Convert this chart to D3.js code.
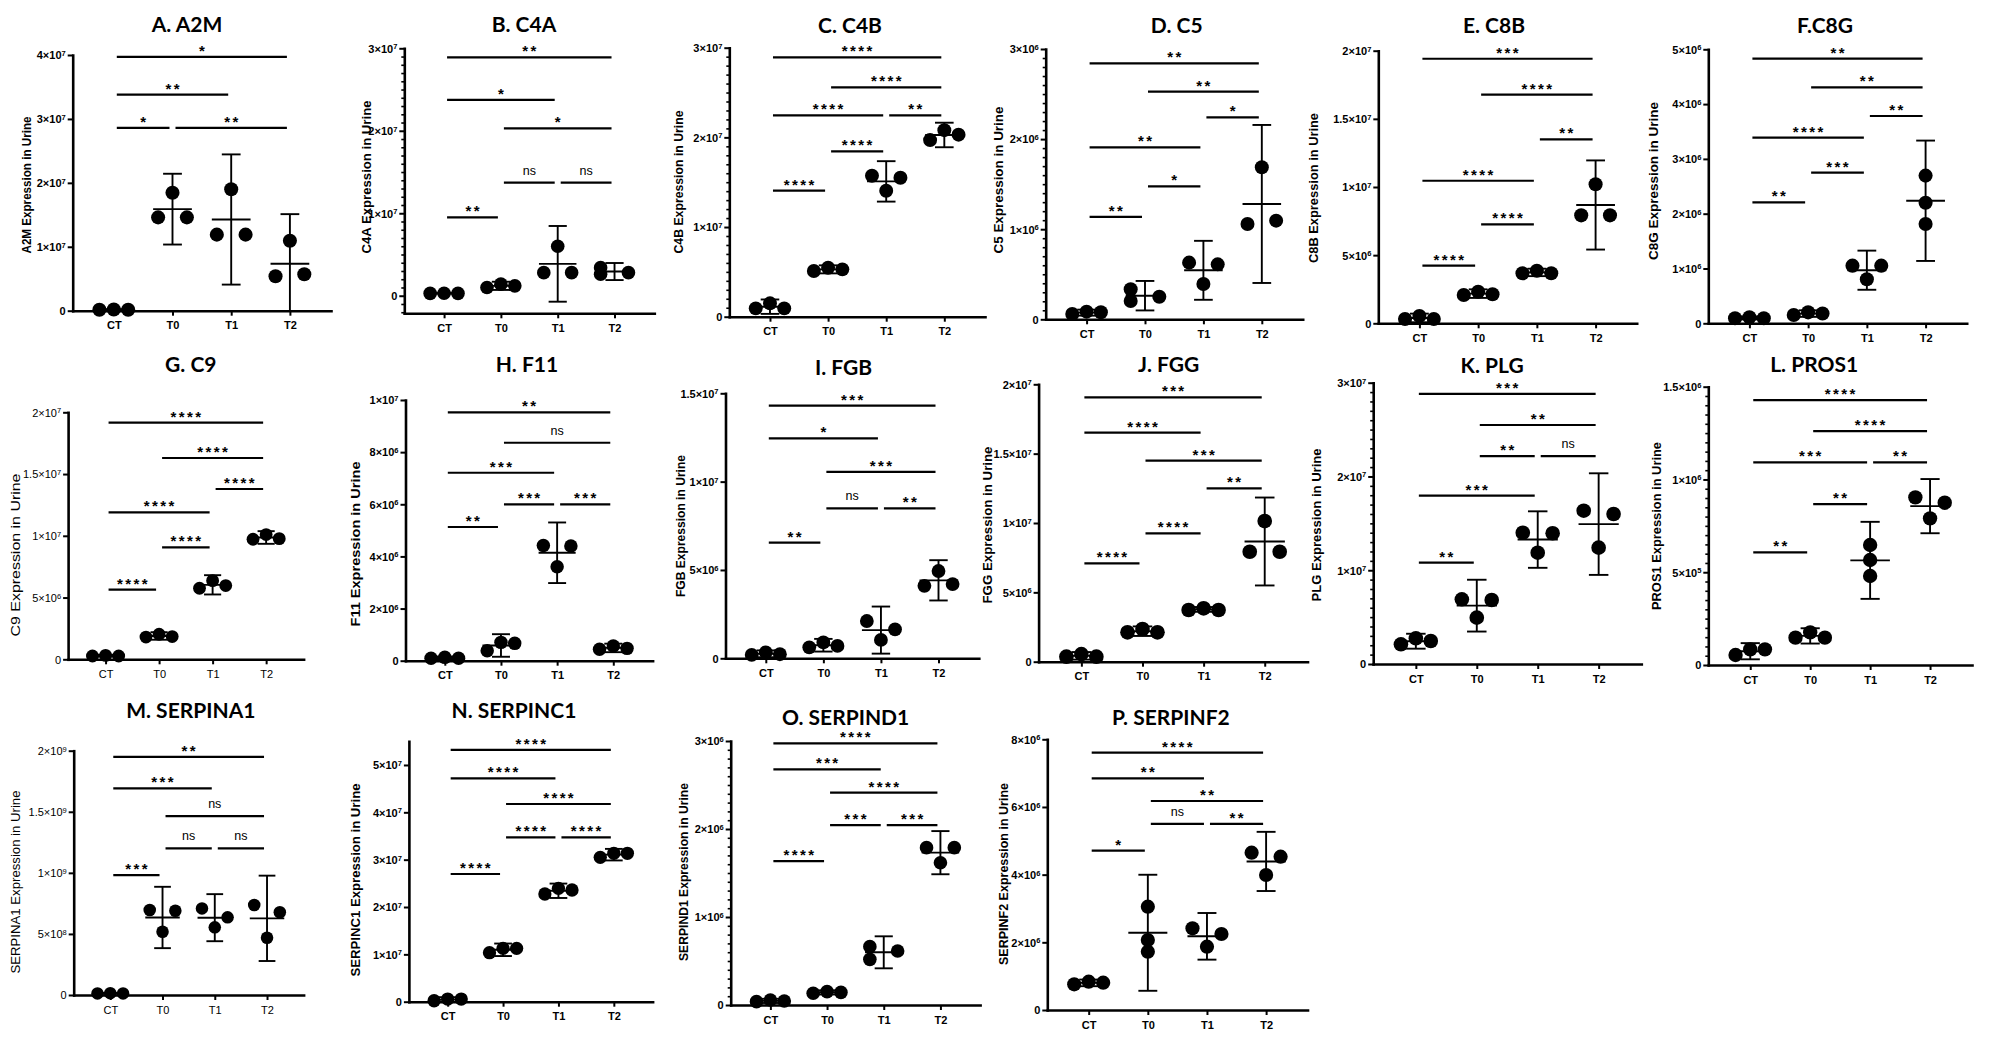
<!DOCTYPE html>
<html><head><meta charset="utf-8">
<script src="https://cdn.jsdelivr.net/npm/d3@7"></script>
<style>body{margin:0;background:#fff}svg{display:block}</style>
</head><body>
<svg id="chart" width="2008" height="1043"></svg>
<script>
// ---------- DATA ----------
const categories = ["CT", "T0", "T1", "T2"];
// points: [value, column slot] per group; sig: [fromIdx, toIdx, yValue, label]
const a2mPoints = [[[1.5e5,-1],[2e5,0],[1.5e5,1]],[[1.46e7,-1],[1.846e7,0],[1.46e7,1]],[[1.19e7,-1],[1.90e7,0],[1.19e7,1]],[[5.4e6,-1],[1.095e7,0],[5.7e6,1]]];
const a2mSig = [[0,3,3.97e7,"*"],[0,2,3.38e7,"**"],[0,1,2.86e7,"*"],[1,3,2.86e7,"**"]];
const a2mTicks = [0,1e7,2e7,3e7,4e7];

const c4aPoints = [[[2.8e5,-1],[3.0e5,0],[2.8e5,1]],[[1.0e6,-1],[1.4e6,0],[1.2e6,1]],[[2.8e6,-1],[6.0e6,0],[2.8e6,1]],[[3.4e6,-1],[2.6e6,-1],[2.8e6,1]]];
const c4aSig = [[0,3,2.89e7,"**"],[0,2,2.374e7,"*"],[1,3,2.03e7,"*"],[1,2,1.371e7,"ns"],[2,3,1.371e7,"ns"],[0,1,0.95e7,"**"]];
const c4aTicks = [0,1e7,2e7,3e7];

const c4bPoints = [[[0.93e6,-1],[1.49e6,0],[0.93e6,1]],[[5.1e6,-1],[5.46e6,0],[5.28e6,1]],[[1.572e7,-1],[1.405e7,0],[1.55e7,1]],[[1.97e7,-1],[2.08e7,0],[2.03e7,1]]];
const c4bSig = [[0,3,2.892e7,"****"],[1,3,2.558e7,"****"],[0,2,2.245e7,"****"],[2,3,2.245e7,"**"],[1,2,1.844e7,"****"],[0,1,1.405e7,"****"]];
const c4bTicks = [0,1e7,2e7,3e7];

const c5Points = [[[5.9e4,-1],[8.5e4,0],[7.8e4,1]],[[3.33e5,-1],[2.03e5,-1],[2.5e5,1]],[[6.29e5,-1],[3.92e5,0],[6.1e5,1]],[[1.058e6,-1],[1.687e6,0],[1.095e6,1]]];
const c5Sig = [[0,3,2.841e6,"**"],[1,3,2.527e6,"**"],[2,3,2.242e6,"*"],[0,2,1.909e6,"**"],[1,2,1.476e6,"*"],[0,1,1.136e6,"**"]];
const c5Ticks = [0,1e6,2e6,3e6];

const c8bPoints = [[[3.2e5,-1],[5.4e5,0],[3.2e5,1]],[[2.08e6,-1],[2.32e6,0],[2.13e6,1]],[[3.67e6,-1],[3.86e6,0],[3.67e6,1]],[[7.92e6,-1],[1.02e7,0],[7.92e6,1]]];
const c8bSig = [[0,3,1.941e7,"***"],[1,3,1.677e7,"****"],[2,3,1.35e7,"**"],[0,2,1.046e7,"****"],[1,2,0.726e7,"****"],[0,1,0.423e7,"****"]];
const c8bTicks = [0,5e6,1e7,1.5e7,2e7];

const c8gPoints = [[[9.1e4,-1],[1.1e5,0],[9.1e4,1]],[[1.52e5,-1],[2.0e5,0],[1.8e5,1]],[[1.052e6,-1],[8.03e5,0],[1.052e6,1]],[[2.695e6,0],[2.2e6,0],[1.813e6,0]]];
const c8gSig = [[0,3,4.83e6,"**"],[1,3,4.307e6,"**"],[2,3,3.783e6,"**"],[0,2,3.388e6,"****"],[1,2,2.749e6,"***"],[0,1,2.208e6,"**"]];
const c8gTicks = [0,1e6,2e6,3e6,4e6,5e6];

const c9Points = [[[2.7e5,-1],[3.2e5,0],[2.7e5,1]],[[1.8e6,-1],[2.03e6,0],[1.84e6,1]],[[5.75e6,-1],[6.37e6,0],[5.97e6,1]],[[9.72e6,-1],[1.01e7,0],[9.77e6,1]]];
const c9Sig = [[0,3,1.916e7,"****"],[1,3,1.63e7,"****"],[2,3,1.379e7,"****"],[0,2,1.19e7,"****"],[1,2,0.907e7,"****"],[0,1,0.564e7,"****"]];
const c9Ticks = [0,5e6,1e7,1.5e7,2e7];

const f11Points = [[[9e4,-1],[1.28e5,0],[9e4,1]],[[3.84e5,-1],[7.03e5,0],[6.65e5,1]],[[4.42e6,-1],[3.6e6,0],[4.4e6,1]],[[4.35e5,-1],[5.63e5,0],[4.73e5,1]]];
const f11Sig = [[0,3,9.527e6,"**"],[1,3,8.36e6,"ns"],[0,2,7.21e6,"***"],[1,2,5.997e6,"***"],[2,3,5.997e6,"***"],[0,1,5.128e6,"**"]];
const f11Ticks = [0,2e6,4e6,6e6,8e6,1e7];

const fgbPoints = [[[1.9e5,-1],[3.4e5,0],[2.3e5,1]],[[6.2e5,-1],[9.0e5,0],[7.0e5,1]],[[2.11e6,-1],[1.04e6,0],[1.64e6,1]],[[4.1e6,-1],[4.94e6,0],[4.2e6,1]]];
const fgbSig = [[0,3,1.43e7,"***"],[0,2,1.245e7,"*"],[1,3,1.055e7,"***"],[1,2,0.849e7,"ns"],[2,3,0.849e7,"**"],[0,1,0.655e7,"**"]];
const fgbTicks = [0,5e6,1e7,1.5e7];

const fggPoints = [[[3.6e5,-1],[5.5e5,0],[3.6e5,1]],[[2.12e6,-1],[2.36e6,0],[2.12e6,1]],[[3.73e6,-1],[3.85e6,0],[3.73e6,1]],[[7.93e6,-1],[1.014e7,0],[7.93e6,1]]];
const fggSig = [[0,3,1.906e7,"***"],[0,2,1.651e7,"****"],[1,3,1.45e7,"***"],[2,3,1.25e7,"**"],[1,2,0.925e7,"****"],[0,1,0.709e7,"****"]];
const fggTicks = [0,5e6,1e7,1.5e7,2e7];

const plgPoints = [[[2.1e6,-1],[2.74e6,0],[2.45e6,1]],[[6.9e6,-1],[4.94e6,0],[6.83e6,1]],[[1.40e7,-1],[1.187e7,0],[1.394e7,1]],[[1.635e7,-1],[1.241e7,0],[1.60e7,1]]];
const plgSig = [[0,3,2.88e7,"***"],[1,3,2.549e7,"**"],[1,2,2.218e7,"**"],[2,3,2.218e7,"ns"],[0,2,1.795e7,"***"],[0,1,1.081e7,"**"]];
const plgTicks = [0,1e7,2e7,3e7];

const pros1Points = [[[5.4e4,-1],[8.44e4,0],[8.44e4,1]],[[1.473e5,-1],[1.76e5,0],[1.473e5,1]],[[6.467e5,0],[5.658e5,0],[4.796e5,0]],[[9.035e5,-1],[7.904e5,0],[8.748e5,1]]];
const pros1Sig = [[0,3,1.428e6,"****"],[1,3,1.261e6,"****"],[0,2,1.092e6,"***"],[2,3,1.092e6,"**"],[1,2,8.676e5,"**"],[0,1,6.07e5,"**"]];
const pros1Ticks = [0,5e5,1e6,1.5e6];

const serpina1Points = [[[1.3e7,-1],[1.5e7,0],[1.3e7,1]],[[6.96e8,-1],[5.18e8,0],[6.9e8,1]],[[7.09e8,-1],[5.54e8,0],[6.36e8,1]],[[7.37e8,-1],[4.69e8,0],[6.77e8,1]]];
const serpina1Sig = [[0,3,1.95e9,"**"],[0,2,1.692e9,"***"],[1,3,1.465e9,"ns"],[1,2,1.2e9,"ns"],[2,3,1.2e9,"ns"],[0,1,9.82e8,"***"]];
const serpina1Ticks = [0,5e8,1e9,1.5e9,2e9];

const serpinc1Points = [[[2e5,-1],[5.6e5,0],[5.6e5,1]],[[1.035e7,-1],[1.127e7,0],[1.127e7,1]],[[2.275e7,-1],[2.394e7,0],[2.359e7,1]],[[3.049e7,-1],[3.134e7,0],[3.134e7,1]]];
const serpinc1Sig = [[0,3,5.317e7,"****"],[0,2,4.718e7,"****"],[1,3,4.176e7,"****"],[1,2,3.472e7,"****"],[2,3,3.472e7,"****"],[0,1,2.697e7,"****"]];
const serpinc1Ticks = [0,1e7,2e7,3e7,4e7,5e7];

const serpind1Points = [[[3.8e4,-1],[5.7e4,0],[4.5e4,1]],[[1.33e5,-1],[1.52e5,0],[1.44e5,1]],[[6.63e5,-1],[5.19e5,-1],[6.14e5,1]],[[1.788e6,-1],[1.617e6,0],[1.788e6,1]]];
const serpind1Sig = [[0,3,2.973e6,"****"],[0,2,2.678e6,"***"],[1,3,2.413e6,"****"],[1,2,2.045e6,"***"],[2,3,2.045e6,"***"],[0,1,1.636e6,"****"]];
const serpind1Ticks = [0,1e6,2e6,3e6];

const serpinf2Points = [[[7.59e5,-1],[8.37e5,0],[8.08e5,1]],[[3.054e6,0],[2.069e6,0],[1.724e6,0]],[[2.414e6,-1],[1.872e6,0],[2.246e6,1]],[[4.65e6,-1],[3.99e6,0],[4.532e6,1]]];
const serpinf2Sig = [[0,3,7.606e6,"****"],[0,2,6.847e6,"**"],[1,3,6.177e6,"**"],[1,2,5.498e6,"ns"],[2,3,5.498e6,"**"],[0,1,4.709e6,"*"]];
const serpinf2Ticks = [0,2e6,4e6,6e6,8e6];

const titles = ["A. A2M","B. C4A","C. C4B","D. C5","E. C8B","F.C8G","G. C9","H. F11","I. FGB","J. FGG","K. PLG","L. PROS1","M. SERPINA1","N. SERPINC1","O. SERPIND1","P. SERPINF2"];
const yTitles = ["A2M","C4A","C4B","C5","C8B","C8G","C9","F11","FGB","FGG","PLG","PROS1","SERPINA1","SERPINC1","SERPIND1","SERPINF2"].map(g => g + " Expression in Urine");
const yDomains = [[0,4e7],[-2.13e6,3e7],[0,3e7],[0,3e6],[0,2e7],[0,5e6],[0,2e7],[0,1e7],[0,1.5e7],[0,2e7],[0,3e7],[0,1.5e6],[0,2e9],[0,5.5e7],[0,3e6],[0,8e6]];
const allPoints = [a2mPoints,c4aPoints,c4bPoints,c5Points,c8bPoints,c8gPoints,c9Points,f11Points,fgbPoints,fggPoints,plgPoints,pros1Points,serpina1Points,serpinc1Points,serpind1Points,serpinf2Points];
const allSig = [a2mSig,c4aSig,c4bSig,c5Sig,c8bSig,c8gSig,c9Sig,f11Sig,fgbSig,fggSig,plgSig,pros1Sig,serpina1Sig,serpinc1Sig,serpind1Sig,serpinf2Sig];
const allTicks = [a2mTicks,c4aTicks,c4bTicks,c5Ticks,c8bTicks,c8gTicks,c9Ticks,f11Ticks,fgbTicks,fggTicks,plgTicks,pros1Ticks,serpina1Ticks,serpinc1Ticks,serpind1Ticks,serpinf2Ticks];

// ---------- LAYOUT (pixels) ----------
const layout = [
 {x0:72.7,x1:331,yb:310.7,yt:55,tx:187,ty:31.7,lx:26.7,ly:185,ll:137,minor:false,bold:true},
 {x0:404.3,x1:654.3,yb:313.3,yt:48.3,tx:524,ty:31.7,lx:366.7,ly:177,ll:153,minor:true,bold:true},
 {x0:729.3,x1:985,yb:316.7,yt:47.7,tx:850,ty:33.3,lx:678,ly:182,ll:143,minor:true,bold:true},
 {x0:1045.7,x1:1302.7,yb:319.3,yt:49,tx:1176.7,ty:32.7,lx:998,ly:180,ll:147,minor:true,bold:true},
 {x0:1378.3,x1:1636.7,yb:323.3,yt:50.7,tx:1494,ty:32.7,lx:1313,ly:188,ll:150,minor:false,bold:true},
 {x0:1708.3,x1:1966.7,yb:323.3,yt:49.3,tx:1825,ty:32.7,lx:1653,ly:181,ll:158,minor:false,bold:true},
 {x0:68.1,x1:303.6,yb:659.3,yt:412.3,tx:190.8,ty:372,lx:15.2,ly:555,ll:163,minor:false,bold:false},
 {x0:405.5,x1:652.6,yb:660.7,yt:400,tx:526.9,ty:372,lx:355.6,ly:544,ll:165,minor:false,bold:true},
 {x0:725.5,x1:978.8,yb:658.3,yt:393.3,tx:843.5,ty:375,lx:680.8,ly:526,ll:142,minor:false,bold:true},
 {x0:1038.6,x1:1307.5,yb:661.7,yt:384.3,tx:1168.7,ty:372,lx:987.9,ly:525,ll:157,minor:false,bold:true},
 {x0:1373.2,x1:1641.3,yb:664,yt:382.7,tx:1492.1,ty:373,lx:1316.1,ly:525,ll:153,minor:true,bold:true},
 {x0:1708.3,x1:1972,yb:665,yt:386.7,tx:1814.2,ty:372,lx:1656.4,ly:526,ll:168,minor:true,bold:true},
 {x0:73.7,x1:303.6,yb:995,yt:750.7,tx:190.8,ty:718,lx:15.2,ly:882,ll:183,minor:false,bold:false},
 {x0:408.9,x1:652.6,yb:1001.7,yt:741.3,tx:513.9,ty:718,lx:355.6,ly:880,ll:193,minor:false,bold:true},
 {x0:730.7,x1:980.1,yb:1005,yt:741,tx:845.6,ty:725,lx:683,ly:872,ll:178,minor:true,bold:true},
 {x0:1047.3,x1:1307.5,yb:1010,yt:739.3,tx:1170.9,ty:725,lx:1003.9,ly:874,ll:182,minor:false,bold:true}
];

const FONT = "'Liberation Sans', Arial, sans-serif";
const svg = d3.select("#chart");
const T_CRIT = 4.303; // t(0.975, df=2)

function fmtParts(v) {
  if (v === 0) return ["0", null];
  const e = Math.floor(Math.log10(Math.abs(v)) + 1e-9);
  const m = +(v / Math.pow(10, e)).toFixed(2);
  return [m + "\u00d710", String(e)];
}

layout.forEach((L, i) => {
  const g = svg.append("g");
  const pts = allPoints[i];
  const sig = allSig[i];
  const ticks = allTicks[i];
  const dom = yDomains[i];

  const y = d3.scaleLinear().domain(dom).range([L.yb, L.yt]);
  const x = d3.scalePoint().domain(categories).range([L.x0, L.x1]).padding(0.7);
  const step = x.step();
  const r = 0.12 * step, slotW = 0.245 * step, meanW = 0.33 * step, capW = 0.16 * step;
  const wt = L.bold ? "bold" : "normal";

  g.append("text").attr("x", L.tx).attr("y", L.ty).attr("text-anchor", "middle")
    .attr("font-family", "Lato, 'Open Sans', sans-serif").attr("font-weight", "bold")
    .attr("font-size", 21).attr("fill", "#000").text(titles[i]);

  g.append("text").attr("transform", `translate(${L.lx},${L.ly}) rotate(-90)`)
    .attr("text-anchor", "middle").attr("dy", "0.36em")
    .attr("font-family", FONT).attr("font-weight", wt).attr("font-size", 12.5)
    .attr("textLength", L.ll).attr("lengthAdjust", "spacingAndGlyphs")
    .text(yTitles[i]);

  if (L.minor) {
    const major = ticks[1] - ticks[0];
    const minorStep = major / 10;
    const minorVals = d3.range(Math.ceil(dom[0] / minorStep), Math.floor(dom[1] / minorStep) + 1)
      .map(k => k * minorStep)
      .filter(v => Math.abs((v / major) - Math.round(v / major)) > 1e-6);
    g.append("g").attr("transform", `translate(${L.x0},0)`)
      .call(d3.axisLeft(y).tickValues(minorVals).tickSize(3).tickFormat(() => ""))
      .call(s => s.select(".domain").remove())
      .call(s => s.selectAll(".tick line").attr("stroke", "#000").attr("stroke-width", 1.6));
  }

  g.append("g").attr("transform", `translate(${L.x0},0)`)
    .call(d3.axisLeft(y).tickValues(ticks).tickSize(5).tickSizeOuter(0).tickPadding(2).tickFormat(() => ""))
    .call(s => s.select(".domain").attr("stroke", "#000").attr("stroke-width", 2.6).attr("stroke-linecap", "square"))
    .call(s => s.selectAll(".tick line").attr("stroke", "#000").attr("stroke-width", 2))
    .call(s => s.selectAll(".tick text").each(function(d) {
      const t = d3.select(this).attr("font-family", FONT).attr("font-weight", wt)
        .attr("font-size", 11).attr("fill", "#000").attr("dy", "0.35em");
      const [base, ex] = fmtParts(d);
      t.append("tspan").text(base);
      if (ex) t.append("tspan").attr("dy", "-0.45em").attr("font-size", 7.5).text(ex);
    }));

  g.append("g").attr("transform", `translate(0,${L.yb})`)
    .call(d3.axisBottom(x).tickSize(5).tickSizeOuter(0).tickPadding(6))
    .call(s => s.select(".domain").attr("stroke", "#000").attr("stroke-width", 2.6).attr("stroke-linecap", "square"))
    .call(s => s.selectAll(".tick line").attr("stroke", "#000").attr("stroke-width", 2))
    .call(s => s.selectAll(".tick text").attr("font-family", FONT).attr("font-weight", wt)
      .attr("font-size", 11).attr("fill", "#000"));

  pts.forEach((grp, ci) => {
    const cx = x(categories[ci]);
    g.selectAll(null).data(grp).join("circle")
      .attr("cx", d => cx + d[1] * slotW).attr("cy", d => y(d[0])).attr("r", r).attr("fill", "#000");
  });

  pts.forEach((grp, ci) => {
    const cx = x(categories[ci]);
    const vals = grp.map(d => d[0]);
    const m = d3.mean(vals), sd = d3.deviation(vals);
    const half = T_CRIT * sd / Math.sqrt(vals.length);
    const lo = m - half, hi = m + half;
    const eg = g.append("g").attr("stroke", "#000").attr("stroke-width", 1.9);
    eg.append("line").attr("x1", cx).attr("x2", cx).attr("y1", y(Math.max(lo, dom[0]))).attr("y2", y(hi));
    eg.append("line").attr("x1", cx - capW).attr("x2", cx + capW).attr("y1", y(hi)).attr("y2", y(hi));
    if (lo >= dom[0]) eg.append("line").attr("x1", cx - capW).attr("x2", cx + capW).attr("y1", y(lo)).attr("y2", y(lo));
    eg.append("line").attr("x1", cx - meanW).attr("x2", cx + meanW).attr("y1", y(m)).attr("y2", y(m));
  });

  sig.forEach(([a, b, v, lab]) => {
    const xa = x(categories[a]) + 3, xb = x(categories[b]) - 3;
    const yy = y(v);
    g.append("line").attr("x1", xa).attr("x2", xb).attr("y1", yy).attr("y2", yy)
      .attr("stroke", "#000").attr("stroke-width", 2.2);
    const isNs = lab === "ns";
    g.append("text").attr("x", (xa + xb) / 2 + (isNs ? 0 : 1.2)).attr("y", isNs ? yy - 8 : yy - 1)
      .attr("text-anchor", "middle").attr("font-family", FONT)
      .attr("font-weight", isNs ? "normal" : "bold").attr("font-size", isNs ? 12.5 : 15)
      .attr("letter-spacing", isNs ? 0 : 2.4).attr("fill", "#000").text(lab);
  });
});
</script>
</body></html>
